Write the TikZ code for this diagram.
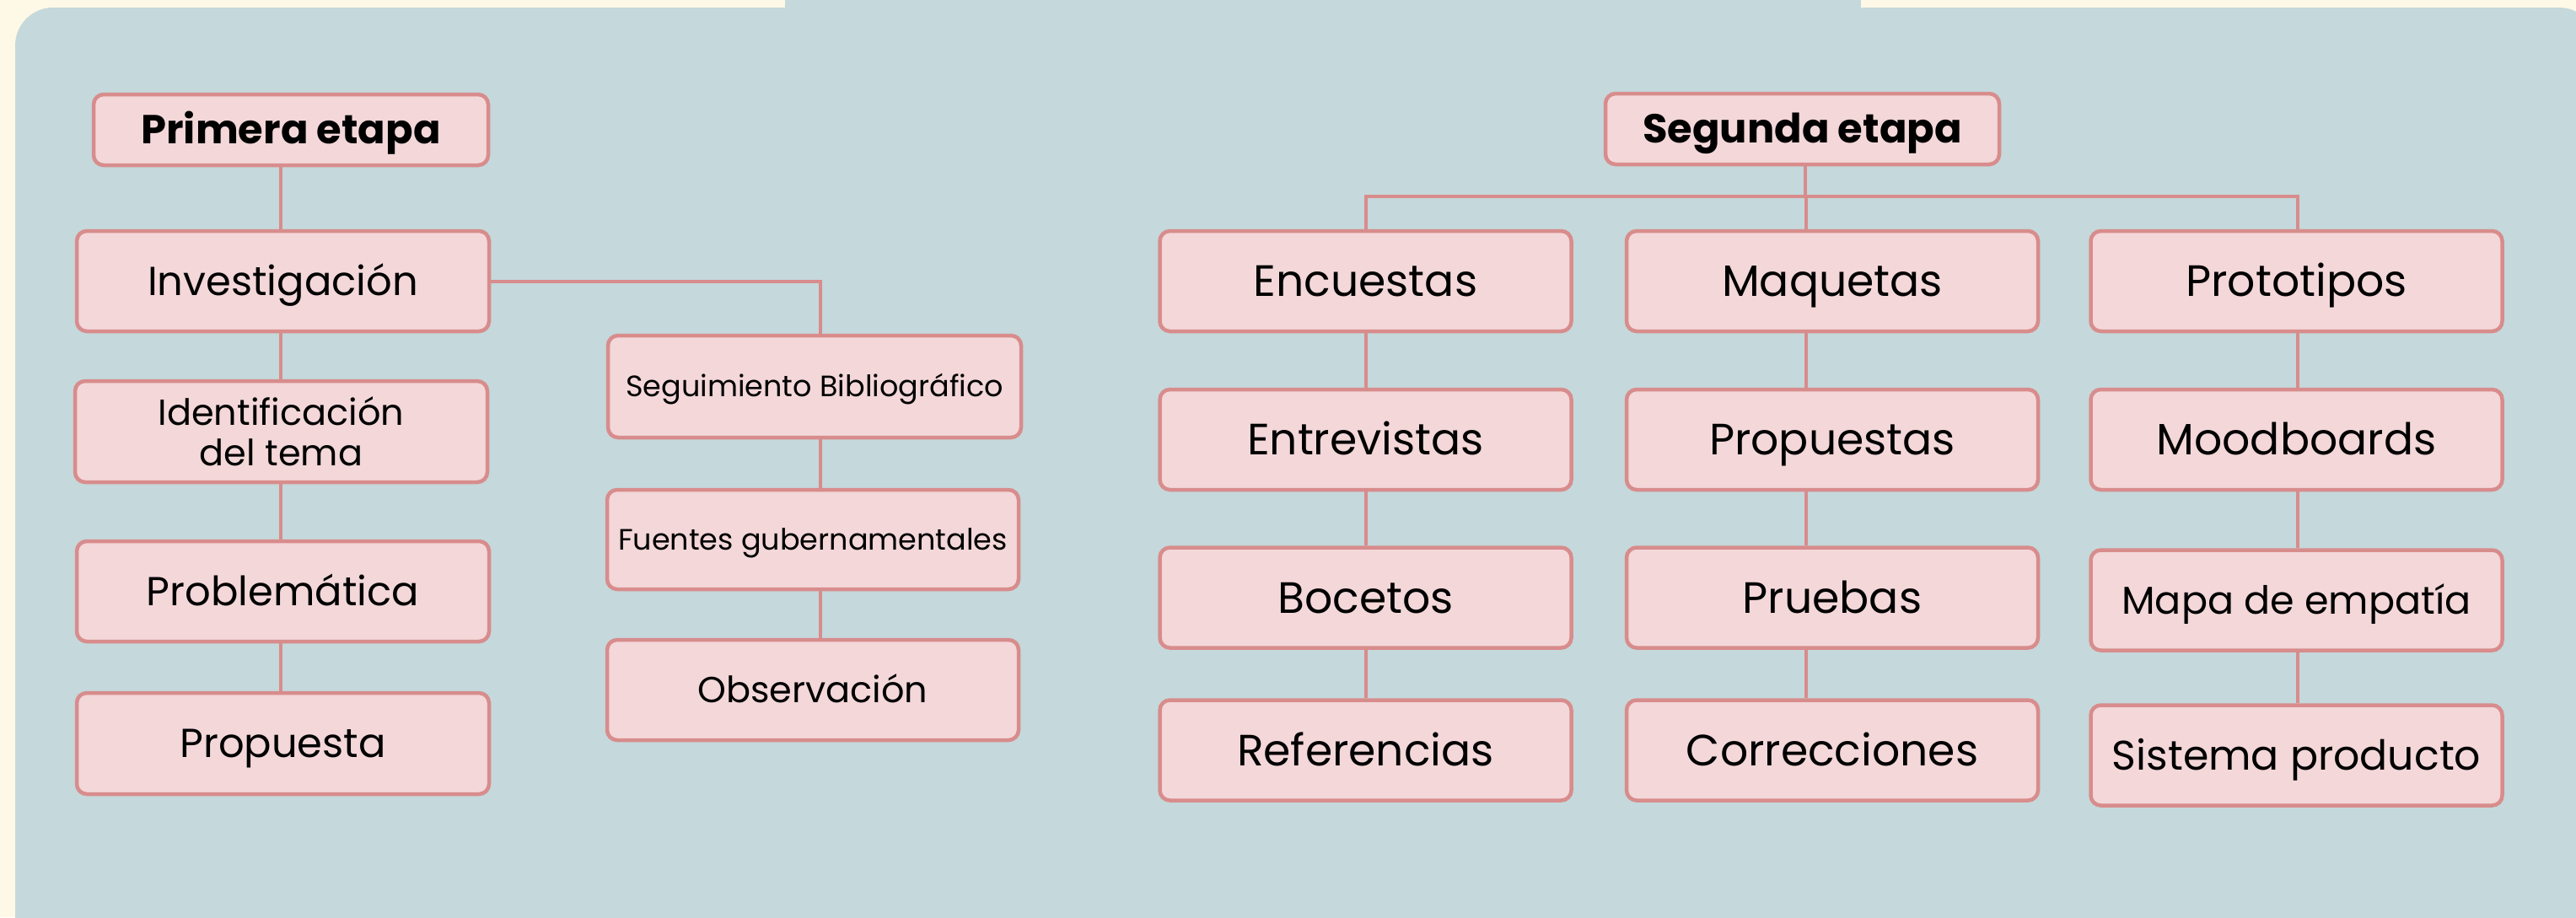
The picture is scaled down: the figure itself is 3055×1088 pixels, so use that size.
\documentclass[tikz,border=0pt]{standalone}
\usepackage{fontspec}
\setmainfont{Poppins}
\definecolor{cream}{HTML}{FEF8E6}
\definecolor{panel}{HTML}{C5D8DB}
\definecolor{boxfill}{HTML}{F3D7D9}
\definecolor{boxline}{HTML}{D88C8C}
\tikzset{
  item/.style={draw=boxline, fill=boxfill, line width=4.5pt, rounded corners=12pt,
    inner sep=0pt, align=center, text=black},
  fs/.style 2 args={font=\fontsize{#1}{#2}\selectfont, text depth=0pt},
  conn/.style={draw=boxline, line width=4pt},
}
\begin{document}
\begin{tikzpicture}[x=1pt,y=-1pt]
\useasboundingbox (0,0) rectangle (3055,1088);
\fill[cream] (0,0) rectangle (3055,1088);
\fill[panel, rounded corners=45pt] (18,9) rectangle (3080,1130);
\fill[panel] (931,0) rectangle (2207,12);

% column coordinates
\coordinate (lx) at (333,0);
\coordinate (sx) at (973,0);
\coordinate (ex) at (1620,0);
\coordinate (mx) at (2142,0);
\coordinate (px) at (2725,0);
\coordinate (hx) at (2141,0);

% first stage
\node[item, minimum width=468pt, minimum height=84pt, fs={48}{54}, text height=33.6pt, font=\fontsize{48}{54}\selectfont\bfseries] (pri) at (345,154) {Primera etapa};
\node[item, minimum width=489pt, minimum height=119pt, fs={48}{54}, text height=33.6pt] (inv) at (335.5,333.5) {Investigación};
\node[item, minimum width=489pt, minimum height=120pt, font=\fontsize{43}{48}\selectfont] (ide) at (333.5,512) {Identificación\\del tema};
\node[item, minimum width=489pt, minimum height=119pt, fs={48}{54}, text height=33.6pt] (prb) at (335.5,701.5) {Problemática};
\node[item, minimum width=489pt, minimum height=120pt, fs={48}{54}, text height=33.6pt] (pro) at (335.5,882) {Propuesta};
\node[item, minimum width=490pt, minimum height=121pt, fs={35}{40}, text height=24.5pt] (seg) at (966,458.5) {Seguimiento Bibliográfico};
\node[item, minimum width=488pt, minimum height=118pt, fs={35}{40}, text height=24.5pt] (fue) at (964,640) {Fuentes gubernamentales};
\node[item, minimum width=488pt, minimum height=119pt, fs={43}{48}, text height=30pt] (obs) at (964,818.5) {Observación};

\draw[conn] (pri.south -| lx) -- (inv.north -| lx);
\draw[conn] (inv.south -| lx) -- (ide.north -| lx);
\draw[conn] (ide.south -| lx) -- (prb.north -| lx);
\draw[conn] (prb.south -| lx) -- (pro.north -| lx);
\draw[conn] (inv.east) -| (seg.north -| sx);
\draw[conn] (seg.south -| sx) -- (fue.north -| sx);
\draw[conn] (fue.south -| sx) -- (obs.north -| sx);

% second stage
\node[item, minimum width=467pt, minimum height=84pt, fs={48}{54}, text height=33.6pt, font=\fontsize{48}{54}\selectfont\bfseries] (sgd) at (2137.5,153) {Segunda etapa};
\tikzset{col/.style={item, minimum width=488pt, minimum height=119pt, fs={52}{58}, text height=36.4pt}}
\node[col] (enc) at (1619.5,333.5) {Encuestas};
\node[col] (maq) at (2173,333.5) {Maquetas};
\node[col] (prt) at (2723.5,333.5) {Prototipos};
\node[col] (ent) at (1619.5,521.5) {Entrevistas};
\node[col] (prp) at (2173,521.5) {Propuestas};
\node[col] (moo) at (2723.5,521.5) {Moodboards};
\node[col] (boc) at (1619.5,709) {Bocetos};
\node[col] (pru) at (2173,709) {Pruebas};
\node[col, fs={46}{52}, text height=32.2pt] (map) at (2723.5,712) {Mapa de empatía};
\node[col, fs={49}{54}, text height=34.3pt] (sis) at (2723.5,896) {Sistema producto};
\node[col] (ref) at (1619.5,890) {Referencias};
\node[col] (cor) at (2173,890) {Correcciones};

\coordinate (bar) at (0,233);
\draw[conn] (sgd.south -| hx) -- (bar -| hx);
\draw[conn] (enc.north -| ex) |- (bar -| ex) -- (bar -| px) -- (prt.north -| px);
\draw[conn] (bar -| mx) -- (maq.north -| mx);

\draw[conn] (enc.south -| ex) -- (ent.north -| ex);
\draw[conn] (ent.south -| ex) -- (boc.north -| ex);
\draw[conn] (boc.south -| ex) -- (ref.north -| ex);
\draw[conn] (maq.south -| mx) -- (prp.north -| mx);
\draw[conn] (prp.south -| mx) -- (pru.north -| mx);
\draw[conn] (pru.south -| mx) -- (cor.north -| mx);
\draw[conn] (prt.south -| px) -- (moo.north -| px);
\draw[conn] (moo.south -| px) -- (map.north -| px);
\draw[conn] (map.south -| px) -- (sis.north -| px);
\end{tikzpicture}
\end{document}
